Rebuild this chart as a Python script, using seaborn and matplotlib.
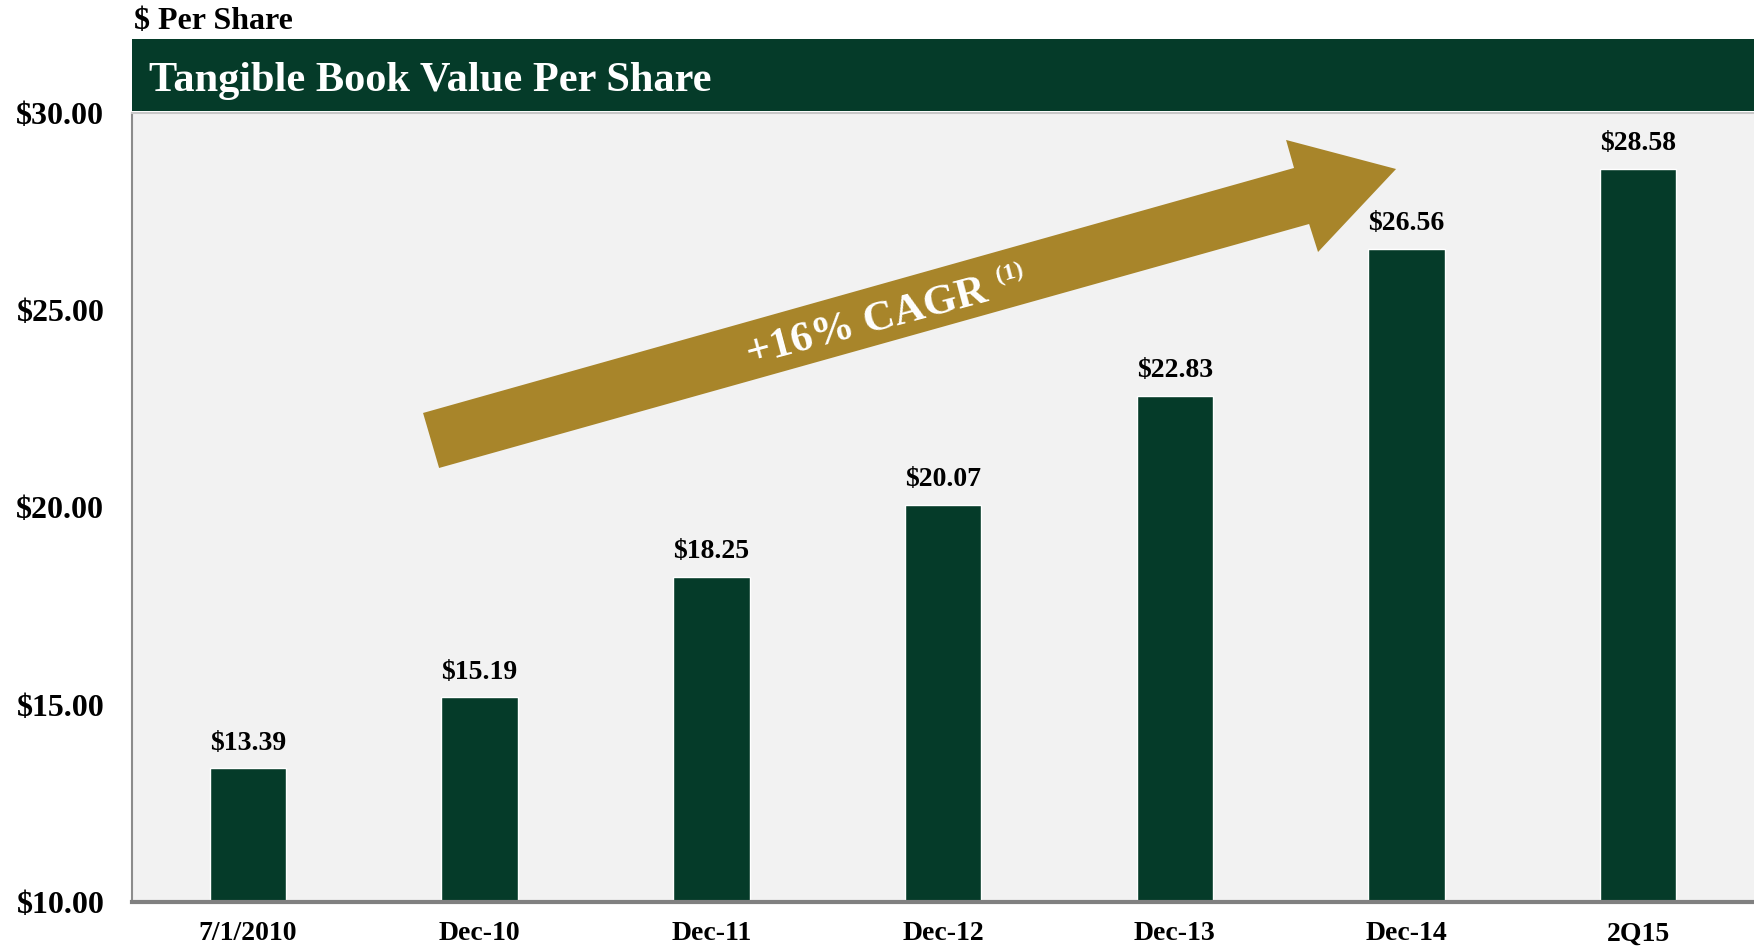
import matplotlib
matplotlib.use("Agg")
import matplotlib.pyplot as plt
import seaborn as sns
from matplotlib.patches import Polygon, Rectangle

# Data
periods = ["7/1/2010", "Dec-10", "Dec-11", "Dec-12", "Dec-13", "Dec-14", "2Q15"]
tbv_per_share = [13.39, 15.19, 18.25, 20.07, 22.83, 26.56, 28.58]
y_ticks = [10, 15, 20, 25, 30]

green = "#053b29"
gold = "#a8852a"

sns.set_style("white")
plt.rcParams["font.family"] = ["Liberation Serif", "DejaVu Serif"]
plt.rcParams["font.weight"] = "bold"
plt.rcParams["text.color"] = "black"

fig = plt.figure(figsize=(17.54, 9.47), dpi=100)
ax = fig.add_axes([0.0753, 0.0475, 0.9247, 0.8332])
ax.set_facecolor("#f2f2f2")

# Bars
sns.barplot(x=periods, y=tbv_per_share, color=green, saturation=1,
            width=0.33, ax=ax)
ax.bar_label(ax.containers[0], labels=[f"${v:.2f}" for v in tbv_per_share],
             padding=9, fontsize=20, fontweight="bold", color="black")

ax.set_ylim(10, 30)
ax.set_xlim(-0.5, 6.5)
ax.set_yticks(y_ticks)
ax.set_yticklabels([f"${v:.2f}" for v in y_ticks], fontsize=23, fontweight="bold",
                   color="black")
ax.tick_params(axis="y", length=0, pad=20)
ax.tick_params(axis="x", length=0, pad=14, labelsize=20, labelcolor="black")
for lab in ax.get_xticklabels():
    lab.set_fontweight("bold")
ax.set_xlabel("")
ax.set_ylabel("")

# Spines
ax.spines["right"].set_visible(False)
ax.spines["left"].set_color("#8c8c8c")
ax.spines["left"].set_linewidth(1.5)
ax.spines["bottom"].set_color("#808080")
ax.spines["bottom"].set_linewidth(3)
ax.spines["top"].set_color("#c8c8c8")
ax.spines["top"].set_linewidth(1.5)

# Title banner
ax.add_patch(Rectangle((0, 1.002), 1.0, 0.0913, transform=ax.transAxes,
                       facecolor=green, edgecolor="none", clip_on=False))
ax.text(0.0105, 1.040, "Tangible Book Value Per Share", transform=ax.transAxes,
        color="white", fontsize=30.5, fontweight="bold", va="center", ha="left")
fig.text(0.0764, 0.977, "$ Per Share", fontsize=23, fontweight="bold",
         color="black", va="center", ha="left")

# CAGR arrow
arrow = [(0.1794, 0.6198), (0.7164, 0.9303), (0.7115, 0.9658), (0.7793, 0.9290),
         (0.7312, 0.8238), (0.7257, 0.8593), (0.1893, 0.5501)]
ax.add_patch(Polygon(arrow, closed=True, transform=ax.transAxes,
                     facecolor=gold, edgecolor="none", zorder=1))
ax.text(0.453, 0.733, "+16% CAGR", transform=ax.transAxes, color="white",
        fontsize=31, fontweight="bold", rotation=15, rotation_mode="anchor",
        ha="center", va="center")
ax.text(0.541, 0.797, "(1)", transform=ax.transAxes, color="white",
        fontsize=17, fontweight="bold", rotation=15, rotation_mode="anchor",
        ha="center", va="center")

fig.savefig("out.png", dpi=100)
